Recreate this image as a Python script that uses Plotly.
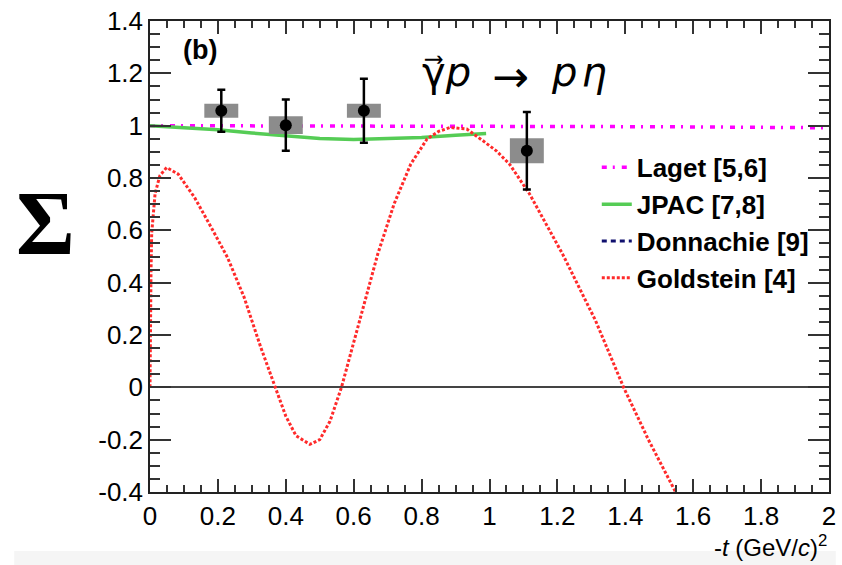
import plotly.graph_objects as go

# ---------------- data ----------------
t_data = [0.21, 0.40, 0.63, 1.11]
sigma_data = [1.057, 1.002, 1.057, 0.904]
stat_err = [0.080, 0.098, 0.122, 0.148]
syst_err = [0.027, 0.034, 0.027, 0.048]
syst_halfwidth = 0.05

laget_t = [0.0, 0.5, 1.0, 1.5, 2.0]
laget_sigma = [1.0, 0.999, 0.998, 0.996, 0.992]

jpac_t = [0.0, 0.1, 0.2, 0.3, 0.4, 0.5, 0.6, 0.7, 0.8, 0.9, 0.99]
jpac_sigma = [1.0, 0.993, 0.984, 0.972, 0.961, 0.951, 0.947, 0.950, 0.955, 0.963, 0.970]

donnachie_t = [None]
donnachie_sigma = [None]

gold_t = [0.0, 0.001, 0.003, 0.005, 0.01, 0.015, 0.029, 0.049, 0.083, 0.131, 0.180,
          0.228, 0.277, 0.326, 0.369, 0.40, 0.43, 0.471, 0.50, 0.53, 0.564, 0.622,
          0.671, 0.719, 0.768, 0.816, 0.85, 0.884, 0.933, 0.981, 1.02, 1.059, 1.118,
          1.215, 1.312, 1.395, 1.468, 1.55]
gold_sigma = [0.0, 0.25, 0.45, 0.59, 0.675, 0.74, 0.809, 0.840, 0.815, 0.726, 0.612,
              0.497, 0.345, 0.154, 0.0, -0.11, -0.185, -0.218, -0.20, -0.13, 0.0, 0.281,
              0.510, 0.701, 0.853, 0.949, 0.978, 0.993, 0.987, 0.942, 0.904, 0.853, 0.739,
              0.510, 0.256, 0.0, -0.20, -0.405]

x_tickvals = [0, 0.2, 0.4, 0.6, 0.8, 1, 1.2, 1.4, 1.6, 1.8, 2]
x_ticktext = ["0", "0.2", "0.4", "0.6", "0.8", "1", "1.2", "1.4", "1.6", "1.8", "2"]
y_tickvals = [-0.4, -0.2, 0, 0.2, 0.4, 0.6, 0.8, 1.0, 1.2, 1.4]
y_ticktext = ["-0.4", "-0.2", "0", "0.2", "0.4", "0.6", "0.8", "1", "1.2", "1.4"]

# ---------------- figure ----------------
fig = go.Figure()

fig.add_trace(go.Scatter(x=laget_t, y=laget_sigma, mode="lines", name="<b>Laget [5,6]</b>",
                         line=dict(color="#ff00ff", width=3.5, dash="5px,6px,2px,7px")))
fig.add_trace(go.Scatter(x=jpac_t, y=jpac_sigma, mode="lines", name="<b>JPAC [7,8]</b>",
                         line=dict(color="#55cc55", width=3.5)))
fig.add_trace(go.Scatter(x=donnachie_t, y=donnachie_sigma, mode="lines", name="<b>Donnachie [9]</b>",
                         line=dict(color="#10106e", width=3, dash="5px,4px")))
fig.add_trace(go.Scatter(x=gold_t, y=gold_sigma, mode="lines", name="<b>Goldstein [4]</b>",
                         line=dict(color="#ff2a2a", width=3, dash="3px,2px")))

# systematic boxes built from data
for ti, si, ei in zip(t_data, sigma_data, syst_err):
    fig.add_trace(go.Scatter(
        x=[ti - syst_halfwidth, ti + syst_halfwidth, ti + syst_halfwidth, ti - syst_halfwidth, ti - syst_halfwidth],
        y=[si - ei, si - ei, si + ei, si + ei, si - ei],
        mode="lines", fill="toself", fillcolor="#8c8c8c",
        line=dict(width=0, color="#8c8c8c"), showlegend=False, hoverinfo="skip"))

fig.add_trace(go.Scatter(x=t_data, y=sigma_data, mode="markers", showlegend=False,
                         marker=dict(color="black", size=12),
                         error_y=dict(type="data", array=stat_err, color="black",
                                      thickness=2.5, width=4)))

axis_common = dict(showline=True, linecolor="#222", linewidth=1.5, mirror="allticks",
                   ticks="inside", tickcolor="#333", tickwidth=1.5, showgrid=False,
                   tickfont=dict(family="Liberation Sans, Arial", size=26, color="black"))

fig.update_xaxes(range=[0, 2], tickmode="array", tickvals=x_tickvals, ticktext=x_ticktext,
                 ticklen=13, zeroline=False,
                 minor=dict(dtick=0.05, tick0=0, ticks="inside", ticklen=7, tickcolor="#333", tickwidth=1.5),
                 **axis_common)
fig.update_yaxes(range=[-0.4, 1.4], tickmode="array", tickvals=y_tickvals, ticktext=y_ticktext,
                 ticklen=21, zeroline=True, zerolinecolor="#444", zerolinewidth=1.5,
                 minor=dict(dtick=0.05, tick0=0, ticks="inside", ticklen=10, tickcolor="#333", tickwidth=1.5),
                 **axis_common)

fig.update_layout(
    width=842, height=565,
    margin=dict(l=150, r=6, t=20, b=73),
    plot_bgcolor="white", paper_bgcolor="white",
    showlegend=True,
    legend=dict(x=0.658, y=0.739, xanchor="left", yanchor="top", bgcolor="rgba(0,0,0,0)",
                font=dict(family="Liberation Sans, Arial", size=26, color="black"),
                itemwidth=30, tracegroupgap=0),
    shapes=[dict(type="rect", xref="paper", yref="paper", x0=-0.2, x1=1.01, y0=-0.16, y1=-0.125,
                 fillcolor="#f5f5f5", line=dict(width=0), layer="below")],
    annotations=[
        dict(text="<b>Σ</b>", xref="paper", yref="paper", x=(44 - 150) / 686, y=(492 - 223) / 472,
             showarrow=False, font=dict(family="Liberation Serif", size=90, color="black"),
             xanchor="center", yanchor="middle"),
        dict(text="<b>(b)</b>", xref="paper", yref="paper", x=(201 - 150) / 686, y=(492 - 49) / 472,
             showarrow=False, font=dict(family="Liberation Sans, Arial", size=27, color="black"),
             xanchor="center", yanchor="middle"),
        dict(text="γ\u20d7<i>p</i>", xref="paper", yref="paper",
             x=(423 - 150) / 686, y=(492 - 71) / 472, showarrow=False,
             font=dict(family="DejaVu Sans", size=40, color="black"),
             xanchor="left", yanchor="middle"),
        dict(text="→", xref="paper", yref="paper",
             x=(514 - 150) / 686, y=(492 - 76) / 472, showarrow=False,
             font=dict(family="DejaVu Sans", size=44, color="black"),
             xanchor="center", yanchor="middle"),
        dict(text="<i>p\u200aη</i>", xref="paper", yref="paper",
             x=(553 - 150) / 686, y=(492 - 71) / 472, showarrow=False,
             font=dict(family="DejaVu Sans", size=40, color="black"),
             xanchor="left", yanchor="middle"),
        dict(text="-<i>t</i> (GeV/<i>c</i>)<sup>2</sup>", xref="paper", yref="paper",
             x=1.0, y=(492 - 546) / 472, showarrow=False,
             font=dict(family="Liberation Sans, Arial", size=24, color="black"),
             xanchor="right", yanchor="middle"),
    ],
)

fig.write_html("out.html", config={"displayModeBar": False},
               post_script="document.body.style.margin='0';document.body.style.padding='0';")
